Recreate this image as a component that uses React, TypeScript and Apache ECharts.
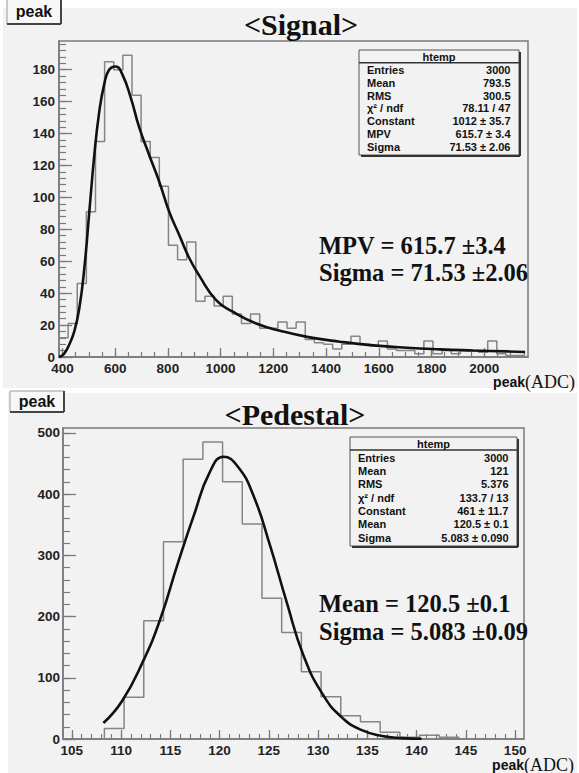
import React, { useEffect, useRef } from "react";
import * as echarts from "echarts";

// ---------- Signal histogram (peak ADC) ----------
const signalBinStart = 387;
const signalBinWidth = 34.6;
const signalCounts = [
  12, 21, 46, 91, 135, 185, 180, 189, 164, 135, 125, 107, 70, 61, 72,
  35, 38, 32, 38, 27, 21, 27, 18, 18, 22, 18, 22,
  11, 9, 8, 5, 8, 13, 8, 7, 10, 5, 4, 4, 2, 10, 2, 4, 2, 4, 4, 3, 10, 2, 1, 1,
];
// Landau fit curve
const signalFitX = [387, 406, 425, 445, 464, 483, 502, 521, 539, 558, 577, 602, 628, 660, 691, 729, 767, 805, 843, 881, 919, 983, 1046, 1135, 1236, 1338, 1452, 1579, 1706, 1832, 1958, 2086, 2155];
const signalFitY = [0, 2, 7.5, 16, 30.5, 55.6, 91, 126.6, 152.8, 170.5, 180, 182, 176.8, 162, 144, 126.6, 110, 91, 76.5, 62, 51, 35.7, 28.4, 21, 16, 12.3, 9.6, 7.3, 5.8, 4.8, 4.1, 3.5, 3.1];
const signalXTicks = [400, 600, 800, 1000, 1200, 1400, 1600, 1800, 2000];
const signalYTicks = [0, 20, 40, 60, 80, 100, 120, 140, 160, 180];
const signalStatLabels = ["Entries", "Mean", "RMS", "χ² / ndf", "Constant", "MPV", "Sigma"];
const signalStatValues = ["3000", "793.5", "300.5", "78.11 / 47", "1012 ± 35.7", "615.7 ± 3.4", "71.53 ± 2.06"];
const signalNotes = ["MPV = 615.7 ±3.4", "Sigma = 71.53 ±2.06"];

// ---------- Pedestal histogram ----------
const pedBinStart = 108.3;
const pedBinWidth = 2;
const pedCounts = [17, 68, 193, 322, 457, 485, 420, 351, 230, 174, 110, 69, 38, 28, 11, 3, 6, 3];
// Gaussian fit curve
const pedFitX = [108.2, 110.1, 112.2, 114.0, 115.7, 117.4, 119.0, 120.4, 121.8, 123.4, 125.1, 126.8, 128.5, 130.5, 132.5, 134.5, 136.5, 138.5, 140.5];
const pedFitY = [26, 62, 126, 197, 284, 366, 436, 461, 446, 399, 317, 224, 137, 72, 34, 14, 5, 1.5, 0.3];
const pedXTicks = [105, 110, 115, 120, 125, 130, 135, 140, 145, 150];
const pedYTicks = [0, 100, 200, 300, 400, 500];
const pedStatLabels = ["Entries", "Mean", "RMS", "χ² / ndf", "Constant", "Mean", "Sigma"];
const pedStatValues = ["3000", "121", "5.376", "133.7 / 13", "461 ± 11.7", "120.5 ± 0.1", "5.083 ± 0.090"];
const pedNotes = ["Mean = 120.5 ±0.1", "Sigma = 5.083 ±0.09"];

const SANS = '"Liberation Sans", Arial, Helvetica, sans-serif';
const SERIF = '"Liberation Serif", "Times New Roman", Times, serif';
const FRAME = "#7a7a7a";
const BG = "#f2f2f2";

function histPoints(start: number, width: number, counts: number[]) {
  const pts: number[][] = [[start, 0]];
  counts.forEach((c, i) => pts.push([start + i * width, c]));
  pts.push([start + counts.length * width, 0]);
  return pts;
}

function minorRange(from: number, to: number, step: number) {
  const out: number[] = [];
  for (let v = from; v <= to + 1e-9; v += step) out.push(Math.round(v * 1000) / 1000);
  return out;
}

function text(x: number, y: number, t: string, font: string, align = "left", extra: any = {}) {
  return {
    type: "text",
    x,
    y,
    z: 20,
    silent: true,
    style: {
      text: t,
      font,
      fill: "#111",
      align,
      verticalAlign: "middle",
      textAlign: align,
      textVerticalAlign: "middle",
      ...extra,
    },
  };
}

function line(x1: number, y1: number, x2: number, y2: number, stroke: string, w: number) {
  return { type: "line", z: 19, silent: true, shape: { x1, y1, x2, y2 }, style: { stroke, lineWidth: w } };
}

function labelBox(x: number, y: number, w: number, h: number) {
  return [
    { type: "rect", z: 18, silent: true, shape: { x, y, width: w, height: h }, style: { fill: "#f7f7f7", stroke: "#9a9a9a", lineWidth: 1 } },
    line(x + w, y, x + w, y + h, "#444", 2),
    line(x, y + h, x + w, y + h, "#444", 2),
    text(x + w / 2, y + h / 2, "peak", `bold 16px ${SANS}`, "center"),
  ];
}

function statBox(x: number, y: number, w: number, h: number, headerH: number, firstRow: number, rowStep: number, labels: string[], values: string[]) {
  const els: any[] = [
    { type: "rect", z: 18, silent: true, shape: { x, y, width: w, height: h }, style: { fill: BG, stroke: "#555", lineWidth: 1 } },
    line(x + w + 1, y + 2, x + w + 1, y + h + 1, "#333", 2),
    line(x + 2, y + h + 1, x + w + 1, y + h + 1, "#333", 2),
    line(x, y + headerH, x + w, y + headerH, "#333", 1.5),
    text(x + w / 2, y + headerH / 2 + 0.5, "htemp", `bold 11px ${SANS}`, "center"),
  ];
  labels.forEach((l, i) => {
    els.push(text(x + 8, firstRow + i * rowStep, l, `bold 11px ${SANS}`, "left"));
    els.push(text(x + w - 8.5, firstRow + i * rowStep, values[i], `bold 11px ${SANS}`, "right"));
  });
  return els;
}

function axisPair(dim: "x" | "y", grid: number, min: number, max: number, major: number[], minor: number[], majorLen: number, minorLen: number, labelMargin: number) {
  const common = {
    type: "value",
    gridIndex: grid,
    min,
    max,
    position: dim === "x" ? "bottom" : "left",
    offset: 0,
    splitLine: { show: false },
    minorTick: { show: false },
    minorSplitLine: { show: false },
  };
  return [
    {
      ...common,
      axisLine: { show: true, onZero: false, lineStyle: { color: FRAME, width: 1.5 } },
      axisTick: { show: true, inside: true, length: majorLen, customValues: major, lineStyle: { color: FRAME, width: 1.3 } },
      axisLabel: {
        show: true,
        customValues: major,
        margin: labelMargin,
        fontSize: 13.5,
        fontWeight: "bold",
        fontFamily: SANS,
        color: "#222",
        hideOverlap: false,
        formatter: (v: number) => String(v),
      },
    },
    {
      ...common,
      axisLine: { show: false, onZero: false },
      axisTick: { show: true, inside: true, length: minorLen, customValues: minor, lineStyle: { color: FRAME, width: 1.2 } },
      axisLabel: { show: false },
    },
  ];
}

export default function App() {
  const ref = useRef<HTMLDivElement>(null);

  useEffect(() => {
    document.body.style.margin = "0";
    if (!ref.current) return;
    const chart = echarts.init(ref.current, undefined, { renderer: "svg" });

    const signalHist = histPoints(signalBinStart, signalBinWidth, signalCounts);
    const signalFit = signalFitX.map((x, i) => [x, signalFitY[i]]);
    const pedHist = histPoints(pedBinStart, pedBinWidth, pedCounts);
    const pedFit = pedFitX.map((x, i) => [x, pedFitY[i]]);

    const xAxes = [
      ...axisPair("x", 0, 387, 2166, signalXTicks, minorRange(400, 2150, 50), 9, 5, 4),
      ...axisPair("x", 1, 104.1, 150.9, pedXTicks, minorRange(105, 150, 1), 9, 5, 4),
    ];
    const yAxes = [
      ...axisPair("y", 0, 0, 198, signalYTicks, minorRange(0, 196, 4), 13, 7, 4),
      ...axisPair("y", 1, 0, 508, pedYTicks, minorRange(0, 500, 20), 13, 7, 3),
    ];

    const histStyle = { color: "#858585", width: 1.5 };
    const fitStyle = { color: "#111", width: 2.6 };

    const graphic: any[] = [
      { type: "rect", z: -10, silent: true, shape: { x: 3, y: 8, width: 574, height: 380 }, style: { fill: BG } },
      { type: "rect", z: -10, silent: true, shape: { x: 8, y: 393, width: 569, height: 380 }, style: { fill: BG } },
      ...labelBox(7, -1, 54, 25),
      ...labelBox(10, 391, 54, 21),
      text(301, 24, "<Signal>", `bold 30px ${SERIF}`, "center"),
      text(295, 414, "<Pedestal>", `bold 30px ${SERIF}`, "center"),
      ...statBox(359, 50, 160, 105, 12.7, 70, 12.8, signalStatLabels, signalStatValues),
      ...statBox(350, 437, 167, 109, 13, 457.7, 13.3, pedStatLabels, pedStatValues),
      text(319, 245, signalNotes[0], `bold 24.5px ${SERIF}`, "left"),
      text(319, 272, signalNotes[1], `bold 24.5px ${SERIF}`, "left"),
      text(319, 603.5, pedNotes[0], `bold 24.5px ${SERIF}`, "left"),
      text(319, 631.5, pedNotes[1], `bold 24.5px ${SERIF}`, "left"),
      text(525, 382, "peak", `bold 14px ${SANS}`, "right"),
      text(525, 381.5, "(ADC)", `18px ${SERIF}`, "left"),
      text(524, 765, "peak", `bold 14px ${SANS}`, "right"),
      text(524, 764.5, "(ADC)", `18px ${SERIF}`, "left"),
    ];

    chart.setOption({
      animation: false,
      backgroundColor: "#ffffff",
      grid: [
        { left: 59, top: 41, width: 469, height: 316, show: true, borderColor: FRAME, borderWidth: 1.5, backgroundColor: "transparent", containLabel: false },
        { left: 63, top: 428, width: 461, height: 311, show: true, borderColor: FRAME, borderWidth: 1.5, backgroundColor: "transparent", containLabel: false },
      ],
      xAxis: xAxes,
      yAxis: yAxes,
      series: [
        { type: "line", name: "signal", xAxisIndex: 0, yAxisIndex: 0, data: signalHist, step: "end", symbol: "none", lineStyle: histStyle, z: 3, silent: true },
        { type: "line", name: "landau", xAxisIndex: 0, yAxisIndex: 0, data: signalFit, smooth: 0.5, symbol: "none", lineStyle: fitStyle, z: 4, silent: true },
        { type: "line", name: "pedestal", xAxisIndex: 2, yAxisIndex: 2, data: pedHist, step: "end", symbol: "none", lineStyle: histStyle, z: 3, silent: true },
        { type: "line", name: "gaus", xAxisIndex: 2, yAxisIndex: 2, data: pedFit, smooth: 0.5, symbol: "none", lineStyle: fitStyle, z: 4, silent: true },
      ],
      graphic,
    });

    return () => chart.dispose();
  }, []);

  return <div ref={ref} style={{ width: 579, height: 773 }} />;
}
